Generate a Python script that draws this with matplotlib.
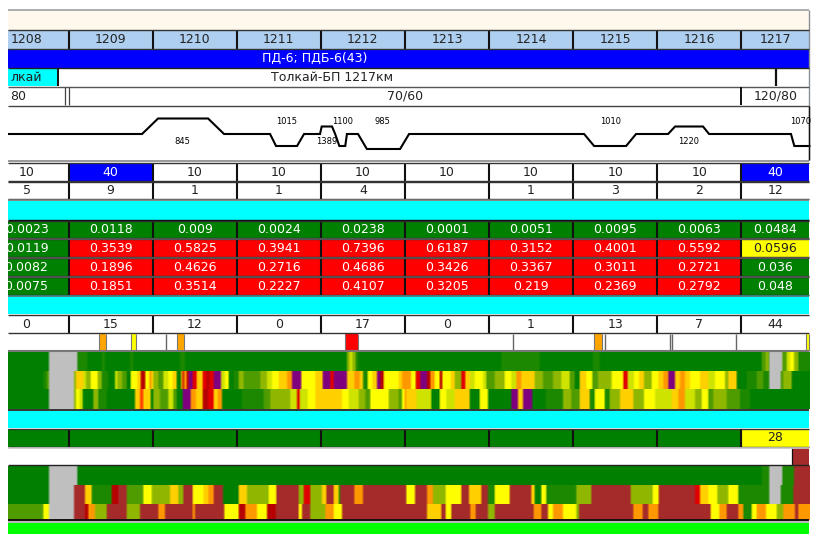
import numpy as np
import matplotlib
matplotlib.use('Agg')
from matplotlib import pyplot as plt
from matplotlib.colors import to_rgb

# km columns, first and last are cut by the window
km = [1208, 1209, 1210, 1211, 1212, 1213, 1214, 1215, 1216, 1217]
left_km = 1208.28
right_km = 1217.81

speed_a = [10, 40, 10, 10, 10, 10, 10, 10, 10, 40]
count_a = ['5', '9', '1', '1', '4', '', '1', '3', '2', '12']
val_1 = ['0.0023', '0.0118', '0.009', '0.0024', '0.0238', '0.0001', '0.0051', '0.0095', '0.0063', '0.0484']
val_2 = ['0.0119', '0.3539', '0.5825', '0.3941', '0.7396', '0.6187', '0.3152', '0.4001', '0.5592', '0.0596']
val_3 = ['0.0082', '0.1896', '0.4626', '0.2716', '0.4686', '0.3426', '0.3367', '0.3011', '0.2721', '0.036']
val_4 = ['0.0075', '0.1851', '0.3514', '0.2227', '0.4107', '0.3205', '0.219', '0.2369', '0.2792', '0.048']
count_b = ['0', '15', '12', '0', '17', '0', '1', '13', '7', '44']

# track profile
prof_km = [1208.28, 1209.874, 1210.064, 1210.659, 1210.849, 1211.396, 1211.467, 1211.717, 1211.8, 1211.99,
           1212.01, 1212.133, 1212.17, 1212.22, 1212.29, 1212.31, 1212.442, 1212.547, 1212.942, 1213.049,
           1215.13, 1215.249, 1215.63, 1215.748, 1216.129, 1216.212, 1216.544, 1216.616, 1217.59, 1217.63,
           1217.77, 1217.81]
prof_lvl = [0, 0, 15.5, 15.5, 0, 0, -12, -12, 0, 0,
            7.5, 7.5, 0, -12, -12, 0, 0, -15, -15, 0,
            0, -12, -12, 0, 0, 7.5, 7.5, 0, 0, -12,
            -12, -12]
prof_lab = ['845', '1015', '1100', '1389', '985', '1010', '1220', '1070']
prof_lab_km = [1210.35, 1211.59, 1212.26, 1212.07, 1212.73, 1215.44, 1216.37, 1217.70]
prof_lab_up = [False, True, True, False, True, True, False, True]

# marker row
mark_km = [(1209.357, 1209.44), (1209.737, 1209.797), (1210.29, 1210.373), (1212.288, 1212.442),
           (1215.243, 1215.34), (1217.77, 1217.81)]
mark_col = ['#ffa500', '#ffff00', '#ffa500', '#ff0000', '#ffa500', '#ffff00']
tick_km = [1210.153, 1214.285, 1215.38, 1216.146, 1216.17, 1216.937]

# heat strips, code + run length in 1/252 km
top_1 = ("G123 S85 H30 G43 H10 G75 H10 G140 H15 G485 L8 J8 L10 H9 G143 "
         "G285 H115 G160 H20 G485 I12 L8 I3 S39 I13 J10 Y12 L13 H37")
top_2 = ("G106 H10 I7 S75 L6 A22 J8 L14 Y21 L12 H20 G20 J7 L14 I14 G12 Y20 A10 D14 Y12 O6 A6 L15 I15 J15 Y13 A12 "
         "G13 O5 D4 O8 D6 P12 R12 A18 R12 D8 R12 P22 J12 Y11 G15 H15 L15 I50 L20 J15 Y20 A25 O15 P28 Y42 A22 P23 "
         "R10 P40 A22 O16 A10 H14 Y14 A14 P10 D10 Y45 A10 O13 "
         "O14 Y14 R14 P20 D10 O13 Y15 D8 Y25 A12 L20 R12 A14 J14 Y25 J10 I25 L30 Y20 J15 O15 A40 L25 I30 L25 J25 "
         "I15 G15 A20 Y18 I17 L40 Y35 R13 J19 Y15 A15 L23 Y20 A15 O15 P20 A15 O15 A15 Y30 A25 J20 Y30 L10 A25 "
         "G30 H30 I20 H18 S34 I8 L25 G57")
top_3 = ("G123 S75 L6 Y10 J10 G32 L15 H25 G85 A15 T10 A22 G8 L20 I25 J15 I10 G18 P24 O16 A20 D16 R16 A12 O13 G60 H65 "
         "I20 L20 L40 J20 R8 J24 Y23 A80 Y20 J30 L20 I15 Y55 L30 I10 Y8 O5 "
         "A30 J45 G25 Y20 J25 A45 G30 Y25 G70 P20 A15 P28 G40 H52 L25 I25 A30 H15 Y30 H15 L30 A40 L32 Y33 J50 A20 "
         "O20 J30 L20 Y20 I15 L40 I40 H30 G182")
bot_1 = "G123 S85 G986 G1065 H23 S39 H35 B50"
bot_2 = ("G123 S75 B33 A20 H60 D20 B25 I50 Y25 L55 A25 L15 B28 Y32 A15 O15 B28 G47 A25 L65 Y23 B67 L15 R20 L35 A13 B22 "
         "A15 H5 B42 O26 B130 "
         "Y26 B36 O18 L38 Y47 B23 A37 B20 H20 Y45 B65 A10 G20 Y15 H90 L45 B117 L66 Y18 B109 R15 A25 Y27 L33 Y30 H93 "
         "S34 H38 B52")
bot_3 = ("I106 Y17 S75 B33 D10 O20 L35 B60 L40 B55 O20 B83 O7 B87 Y43 D20 O35 Y30 D26 B69 Y10 B25 L45 O25 Y25 B193 "
         "B62 A43 B13 Y17 B57 O16 B37 L20 B117 O23 B20 Y15 O30 Y40 L8 B162 O28 B17 O30 B157 Y26 O22 B35 O15 H25 Y15 "
         "O28 Y32 L20 O35 B10 O37")

heat_col = {'G': '#008000', 'H': '#1c8800', 'I': '#4f9c00', 'L': '#8fb800', 'J': '#cfe400', 'Y': '#ffff00',
            'A': '#ffd000', 'O': '#ff9800', 'T': '#ff4000', 'R': '#e00000', 'D': '#b80000', 'P': '#800080',
            'S': '#c0c0c0', 'B': '#a52a2a'}
bins_per_km = 252.3


def expand(runs):
    cols = []
    for tok in runs.split():
        cols += [to_rgb(heat_col[tok[0]])] * int(tok[1:])
    arr = np.array(cols)
    # soft edges like the resized screenshot
    box = np.ones(7) / 7
    pad = np.pad(arr, ((3, 3), (0, 0)), mode='edge')
    return np.stack([np.convolve(pad[:, c], box, mode='valid') for c in range(3)], axis=1)


fig = plt.figure(figsize=(8.16, 5.34), dpi=100)
ax = fig.add_axes([8 / 816, 0, 808 / 816, 1])
ax.axis('off')
x0 = left_km
x1 = left_km + (816 - 8) / 84.1

edges = [left_km] + km[1:] + [right_km]
mids = [1208.5] + [(edges[i] + edges[i + 1]) / 2 for i in range(1, len(edges) - 1)]
FS = 9
INK = '#222222'


def band(y0, y1, color, a=left_km, b=right_km):
    ax.fill_between([a, b], y0, y1, color=color, lw=0, zorder=1)


def hline(y, color='#111111', lw=1.0):
    ax.plot([left_km, right_km], [y, y], color=color, lw=lw, zorder=4, solid_capstyle='butt')


def vline(x, y0, y1, color='#111111', lw=1.5):
    ax.plot([x, x], [y0, y1], color=color, lw=lw, zorder=4, solid_capstyle='butt')


def cell_row(y0, y1, labels, colors, tcolors):
    for i in range(len(labels)):
        band(y0, y1, colors[i], edges[i], edges[i + 1])
        ax.text(mids[i], (y0 + y1) / 2 + 0.3, str(labels[i]), ha='center', va='center', fontsize=FS,
                color=tcolors[i], clip_on=True, zorder=5)
    for e in edges[1:-1]:
        vline(e, y0, y1)
    hline(y0, '#333333', 1.0)
    hline(y1, '#333333', 1.0)


def heat(y0, y1, runs):
    arr = expand(runs)
    n = int((right_km - left_km) * bins_per_km)
    arr = arr[:n][np.newaxis, :, :]
    ax.imshow(arr, extent=[left_km, left_km + arr.shape[1] / bins_per_km, y1, y0], aspect='auto',
              interpolation='nearest', zorder=2)


# header bands
hline(10.3, '#9aa0a8', 1.2)
vline(right_km, 10, 160, '#8a8f96', 1.0)
band(11, 29.5, '#fff8ec')
cell_row(30, 48.5, km, ['#aecff0'] * 10, [INK] * 10)
band(49, 67.5, '#0000ff')
ax.text(1211.93, 58.5, 'ПД-6; ПДБ-6(43)', ha='center', va='center', fontsize=FS, color='white', zorder=5)

band(68, 86, '#00ffff', left_km, 1208.86)
ax.text(1208.305, 77.5, 'лкай', ha='left', va='center', fontsize=FS, color=INK, zorder=5)
ax.text(1212.13, 77.5, 'Толкай-БП 1217км', ha='center', va='center', fontsize=FS, color=INK, zorder=5)
vline(1208.87, 68, 86, lw=1.4)
vline(1217.41, 68, 86, lw=1.6)
hline(67.5, '#222222', 1.0)
hline(86.5, '#555555', 1.0)

ax.text(1208.305, 96.3, '80', ha='left', va='center', fontsize=FS, color=INK, zorder=5)
ax.text(1213.0, 96.3, '70/60', ha='center', va='center', fontsize=FS, color=INK, zorder=5)
ax.text(1217.41, 96.3, '120/80', ha='center', va='center', fontsize=FS, color=INK, zorder=5)
vline(1208.96, 87, 105, color='#444444', lw=0.9)
vline(1209.01, 87, 105, color='#444444', lw=0.9)
vline(1217.0, 87, 105, lw=1.4)
hline(105.5, '#444444', 1.0)

# profile
prof_y = 134 - np.array(prof_lvl)
ax.plot(prof_km, prof_y, color='black', lw=1.5, zorder=3, solid_joinstyle='miter')
for name, xk, up in zip(prof_lab, prof_lab_km, prof_lab_up):
    ax.text(xk, 122 if up else 142, name, ha='center', va='center', fontsize=6, color='black',
            clip_on=True, zorder=5)
hline(160.8, '#999999', 1.4)
vline(right_km, 106, 160, lw=1.0)

# speed and count rows
cell_row(162.5, 181, speed_a, ['#0000ff' if v == 40 else 'white' for v in speed_a],
         ['white' if v == 40 else INK for v in speed_a])
cell_row(182, 199, count_a, ['white'] * 10, [INK] * 10)
hline(200.2, '#777777', 1.2)
band(201, 219.5, '#00ffff')

# value rows, red above 0.1, yellow for the one warning
val_rows = [val_1, val_2, val_3, val_4]
val_y = [(220.5, 238), (239, 257), (258, 276), (277, 295)]
for vals, (ya, yb) in zip(val_rows, val_y):
    cols, tcols = [], []
    for v in vals:
        f = float(v)
        if f > 0.1:
            cols.append('#ff0000')
            tcols.append('white')
        elif 0.05 < f:
            cols.append('#ffff00')
            tcols.append(INK)
        else:
            cols.append('#008000')
            tcols.append('white')
    cell_row(ya, yb, vals, cols, tcols)
hline(219.8, '#111111', 1.0)
hline(238.5, '#555555', 1.3)
hline(257.5, '#555555', 1.3)
hline(276.5, '#555555', 1.3)
hline(295.5, '#3a7f80', 1.3)

band(296.5, 314, '#00ffff')
cell_row(315, 333, count_b, ['white'] * 10, [INK] * 10)

# marker row
for (a, b), c in zip(mark_km, mark_col):
    band(334, 350.5, c, a, b)
    vline(a, 334, 350.5, '#777777', 0.8)
    vline(b, 334, 350.5, '#777777', 0.8)
for t in tick_km:
    vline(t, 334, 350.5, '#666666', 1.0)
hline(350.7, '#777777', 1.5)

# top heat
heat(352, 371, top_1)
heat(371, 390, top_2)
heat(390, 409.4, top_3)
hline(409.7, '#111111', 1.2)
band(410.5, 427.5, '#00ffff')

# green / yellow row
cell_row(428.5, 446.5, [''] * 9 + ['28'], ['#008000'] * 9 + ['#ffff00'], [INK] * 10)
vline(1216.99, 428.5, 446.5)

band(447.5, 465, 'white')
band(447.5, 465, '#a52a2a', 1217.61, right_km)
vline(1217.6, 447.5, 465, lw=0.9)
hline(447.6, '#cccccc', 1.2)
hline(465.3, '#222222', 1.0)

# lower heat
heat(466, 485, bot_1)
heat(485, 504, bot_2)
heat(504, 520, bot_3)
hline(520.4, '#111111', 1.4)
hline(522, '#aaaaaa', 1.2)
band(523, 534, '#00ff00')

ax.set_xlim(x0, x1)
ax.set_ylim(534, 0)
fig.savefig('out.png', dpi=100)
